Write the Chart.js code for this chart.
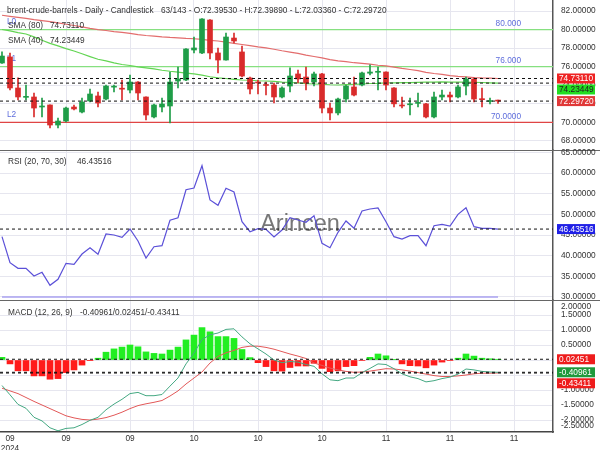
<!DOCTYPE html>
<html><head><meta charset="utf-8">
<script src="https://cdn.jsdelivr.net/npm/chart.js@4.4.1/dist/chart.umd.min.js"></script>
<style>html,body{margin:0;padding:0;background:#fff;overflow:hidden}canvas{display:block}</style>
</head><body>
<canvas id="c" width="600" height="450"></canvas>
<script>
// ---------- DATA ----------
const titleText = 'brent-crude-barrels - Daily - Candlestick';
const visibleCount = 63;
const totalCount = 143;
const watermark = 'Arincen';

const openP  = [76.40,77.05,73.71,72.70,72.74,71.66,71.88,69.72,70.15,71.66,71.12,72.31,72.85,72.52,73.80,73.63,73.49,74.35,72.74,70.59,71.66,71.77,74.46,74.57,77.80,77.48,81.03,77.48,76.72,79.09,77.59,74.79,74.30,74.08,74.03,72.74,73.92,75.22,74.89,74.35,75.22,71.55,71.02,72.52,73.82,74.03,75.30,75.40,75.43,73.71,71.85,71.90,72.05,72.00,70.59,72.74,72.95,72.74,73.92,74.68,72.55,72.25,72.3953];
const highP  = [77.59,77.48,74.79,74.03,73.17,72.63,71.90,70.48,71.66,71.88,72.63,73.60,73.28,74.03,74.03,74.57,75.11,74.40,72.76,71.98,72.63,75.43,75.97,77.95,79.20,81.18,81.08,78.02,79.63,79.63,78.23,74.89,74.57,74.35,74.25,73.82,75.87,75.65,75.97,75.43,75.30,72.09,72.63,74.03,74.89,75.43,76.20,75.97,75.45,73.75,72.74,72.63,73.17,72.05,73.28,73.49,73.28,74.03,74.89,74.79,73.71,72.63,72.3989];
const lowP   = [76.35,73.49,72.42,72.42,70.59,70.59,69.40,69.40,70.05,71.34,71.02,72.20,71.66,72.42,73.28,72.42,73.17,72.42,70.26,70.48,71.12,69.94,73.71,74.50,77.48,77.40,76.83,75.33,76.70,78.56,74.89,73.06,73.06,72.95,72.09,72.63,73.28,74.25,73.49,73.92,71.02,70.26,70.80,72.20,72.85,73.92,75.11,73.49,73.49,71.66,71.55,70.80,71.66,70.48,70.48,72.42,72.20,72.63,72.95,72.20,71.66,71.98,72.0336];
const closeP = [77.15,73.71,72.74,72.76,71.55,71.77,69.72,70.15,71.55,71.45,72.20,73.06,72.09,73.92,73.85,73.58,74.35,73.17,70.80,71.88,71.98,74.35,74.68,77.91,78.02,81.14,77.48,76.72,79.20,78.77,75.00,73.60,74.25,73.98,72.74,73.71,75.00,74.68,74.25,75.22,71.55,71.02,72.52,73.92,72.95,75.33,75.43,75.50,74.03,72.00,71.77,72.00,72.12,70.59,72.74,72.95,72.74,73.82,74.68,72.52,72.45,72.35,72.2972];

const sma80 = [81.54,81.42,81.31,81.20,81.07,80.96,80.85,80.72,80.57,80.44,80.30,80.13,79.99,79.90,79.78,79.69,79.59,79.46,79.36,79.30,79.21,79.15,79.11,79.05,79.01,78.94,78.84,78.77,78.65,78.51,78.39,78.28,78.13,78.02,77.88,77.72,77.58,77.43,77.25,77.10,76.95,76.77,76.62,76.54,76.43,76.35,76.27,76.16,76.08,75.96,75.82,75.70,75.57,75.40,75.27,75.17,75.05,74.95,74.90,74.83,74.79,74.77,74.7311];
const sma40 = [80.01,79.86,79.67,79.52,79.21,78.85,78.52,78.25,77.95,77.69,77.40,77.09,76.80,76.63,76.42,76.24,76.13,75.99,75.88,75.77,75.62,75.51,75.42,75.31,75.22,75.09,74.92,74.79,74.73,74.63,74.57,74.54,74.49,74.46,74.42,74.35,74.30,74.26,74.18,74.14,74.11,74.06,74.03,74.07,74.10,74.14,74.19,74.21,74.25,74.26,74.28,74.28,74.31,74.33,74.35,74.36,74.35,74.35,74.34,74.32,74.30,74.27,74.23449];

const rsiValues = [44.59,38.30,36.94,36.94,35.08,35.97,32.83,34.28,38.15,37.91,40.40,41.93,40.33,45.24,45.00,44.44,46.45,43.55,39.43,42.17,42.41,48.56,49.18,55.96,56.37,61.77,53.47,52.18,56.30,55.40,48.22,45.80,46.52,46.38,44.51,46.21,49.18,48.63,48.07,49.67,42.99,41.93,45.65,48.39,46.62,50.81,51.29,51.53,48.22,44.59,44.03,44.83,44.83,42.41,47.25,47.59,47.18,50.01,51.60,47.01,46.62,46.62,46.43516];
const rsiLowerBand = 30;

const macdLine   = [-0.85,-1.16,-1.48,-1.61,-1.91,-2.03,-2.26,-2.36,-2.28,-2.26,-2.15,-2.01,-1.91,-1.66,-1.47,-1.31,-1.12,-1.08,-1.19,-1.19,-1.15,-0.87,-0.60,-0.13,0.23,0.68,0.84,0.90,1.02,1.04,0.77,0.54,0.37,0.20,0.00,-0.09,-0.05,-0.07,-0.15,-0.21,-0.46,-0.66,-0.69,-0.60,-0.60,-0.42,-0.28,-0.13,-0.15,-0.29,-0.46,-0.56,-0.62,-0.73,-0.69,-0.62,-0.57,-0.47,-0.30,-0.33,-0.38,-0.40,-0.40961];
const macdSignal = [-0.94,-1.03,-1.12,-1.25,-1.38,-1.50,-1.62,-1.74,-1.86,-1.93,-1.98,-2.00,-1.97,-1.92,-1.84,-1.74,-1.62,-1.52,-1.46,-1.41,-1.35,-1.20,-1.03,-0.80,-0.60,-0.40,-0.10,0.12,0.24,0.32,0.42,0.46,0.46,0.42,0.36,0.28,0.20,0.13,0.05,-0.10,-0.18,-0.27,-0.33,-0.38,-0.41,-0.40,-0.37,-0.33,-0.29,-0.30,-0.33,-0.37,-0.42,-0.47,-0.52,-0.55,-0.55,-0.53,-0.50,-0.46,-0.44,-0.44,-0.43411];
const macdHist   = [0.09,-0.13,-0.36,-0.36,-0.53,-0.53,-0.64,-0.62,-0.42,-0.33,-0.17,-0.01,0.06,0.26,0.37,0.43,0.50,0.44,0.27,0.22,0.20,0.33,0.43,0.67,0.83,1.08,0.94,0.78,0.78,0.72,0.35,0.08,-0.09,-0.22,-0.36,-0.37,-0.25,-0.20,-0.20,-0.11,-0.28,-0.39,-0.36,-0.22,-0.19,-0.02,0.09,0.20,0.14,0.01,-0.13,-0.19,-0.20,-0.26,-0.17,-0.07,-0.02,0.06,0.20,0.13,0.06,0.04,0.02451];

const levelValues = [80, 76, 70];
const levelNames  = ['L0', 'L1', 'L2'];
const levelTexts  = ['80.000', '76.000', '70.0000'];

const xTickIndex  = [1, 8, 16, 24, 32, 40, 48, 56, 64];
const xTickLabels = [['09', '2024'], '09', '09', '10', '10', '10', '11', '11', '11'];
const priceTicks = [68, 70, 72, 74, 76, 78, 80, 82];
const rsiTicks   = [30, 35, 40, 45, 50, 55, 60, 65];
const macdTicks  = [2, 1.5, 1, 0.5, 0, -0.5, -1, -1.5, -2, -2.5];

// ---------- STYLE ----------
const FAM = '"Liberation Sans", Arial, sans-serif';
const FS = 8.3;
const X_MIN = -0.25, X_MAX = 68.875;
const UP = '#1f9d48', DOWN = '#d92b2b';
const GRID = '#e6e6ef';

const last = a => a[a.length - 1];
const candleColor = c => closeP[c.dataIndex] >= openP[c.dataIndex] ? UP : DOWN;
const hLine = v => [{x: X_MIN, y: v}, {x: X_MAX, y: v}];
const idx = openP.map((_, i) => i);

const dashed = (v, axis) => ({type: 'line', yAxisID: axis, data: hLine(v), borderColor: '#111', borderWidth: 1, borderDash: [3, 3], pointRadius: 0});

const datasets = [
  dashed(last(sma80), 'yP'), dashed(last(sma40), 'yP'), dashed(last(closeP), 'yP'),
  dashed(last(rsiValues), 'yR'),
  dashed(last(macdHist), 'yM'), dashed(last(macdLine), 'yM'), dashed(last(macdSignal), 'yM'),
  {type: 'bar', yAxisID: 'yP', grouped: false, data: idx.map(i => ({x: i, y: [openP[i], closeP[i]]})), backgroundColor: candleColor, barThickness: 5, minBarLength: 1, borderWidth: 0},
  {type: 'bar', yAxisID: 'yP', grouped: false, data: idx.map(i => ({x: i, y: [lowP[i], highP[i]]})), backgroundColor: candleColor, barThickness: 1, borderWidth: 0},
  {type: 'line', yAxisID: 'yP', data: idx.map(i => ({x: i, y: sma80[i]})), borderColor: '#e36d6d', borderWidth: 1.2, pointRadius: 0},
  {type: 'line', yAxisID: 'yP', data: idx.map(i => ({x: i, y: sma40[i]})), borderColor: '#63d553', borderWidth: 1.2, pointRadius: 0},
  {type: 'line', yAxisID: 'yP', data: hLine(levelValues[0]), borderColor: '#86e080', borderWidth: 1.2, pointRadius: 0},
  {type: 'line', yAxisID: 'yP', data: hLine(levelValues[1]), borderColor: '#86e080', borderWidth: 1.2, pointRadius: 0},
  {type: 'line', yAxisID: 'yP', data: hLine(levelValues[2]), borderColor: '#e04545', borderWidth: 1.2, pointRadius: 0},
  {type: 'line', yAxisID: 'yR', data: idx.map(i => ({x: i, y: rsiValues[i]})), borderColor: '#5b50d8', borderWidth: 1.2, pointRadius: 0},
  {type: 'line', yAxisID: 'yR', data: [{x: 0, y: rsiLowerBand}, {x: idx.length - 1, y: rsiLowerBand}], borderColor: '#aaa2f0', borderWidth: 1.6, pointRadius: 0},
  {type: 'line', yAxisID: 'yM', data: idx.map(i => ({x: i, y: macdLine[i]})), borderColor: '#44a882', borderWidth: 1, pointRadius: 0},
  {type: 'line', yAxisID: 'yM', data: idx.map(i => ({x: i, y: macdSignal[i]})), borderColor: '#e25858', borderWidth: 1, pointRadius: 0},
  {type: 'bar', yAxisID: 'yM', grouped: false, data: idx.map(i => ({x: i, y: macdHist[i]})), backgroundColor: c => macdHist[c.dataIndex] >= 0 ? '#22ee22' : '#ff1a1a', barThickness: 6, borderWidth: 0}
];

function yAxis(min, max, weight, ticks) {
  return {
    type: 'linear', position: 'right', stack: 'panes', stackWeight: weight, min, max,
    afterBuildTicks: s => { s.ticks = ticks.map(v => ({value: v})); },
    afterFit: s => { s.width = 47; s.paddingTop = 0; s.paddingBottom = 0; },
    ticks: {display: false},
    grid: {drawTicks: false, color: c => (c.tick && (c.tick.value > max || c.tick.value < min)) ? 'rgba(0,0,0,0)' : GRID},
    border: {display: true, color: '#555', width: 1.5}
  };
}

function valueBoxes(ctx, scale, items, x) {
  const h = 10;
  const arr = items.map(it => Object.assign({}, it, {y: scale.getPixelForValue(it.v)})).sort((a, b) => a.y - b.y);
  let prev = -1e9;
  arr.forEach(it => {
    let top = it.y - h / 2;
    if (top < prev + 1) top = prev + 1;
    ctx.fillStyle = it.bg; ctx.fillRect(x, top, 38, h);
    ctx.fillStyle = it.fg; ctx.fillText(it.v.toFixed(5), x + 2, top + h / 2 + 0.5);
    prev = top + h;
  });
}

const overlay = {
  id: 'overlay',
  beforeDatasetsDraw(chart) {
    const {ctx, chartArea: a, scales: {yP, yR}} = chart;
    ctx.save();
    ctx.font = '23.5px ' + FAM; ctx.fillStyle = 'rgba(95,95,95,0.85)';
    ctx.textAlign = 'center'; ctx.textBaseline = 'alphabetic';
    ctx.fillText(watermark, chart.width / 2, yR.top + 81);
    ctx.font = FS + 'px ' + FAM; ctx.fillStyle = '#5f6edc'; ctx.textBaseline = 'bottom';
    levelValues.forEach((v, i) => {
      const y = yP.getPixelForValue(v);
      ctx.textAlign = 'left'; ctx.fillText(levelNames[i], a.left + 7, y - 4);
      ctx.textAlign = 'right'; ctx.fillText(levelTexts[i], a.right - 32, y - 1.5);
    });
    ctx.restore();
  },
  afterDraw(chart) {
    const {ctx, chartArea: a, scales: {yP, yR, yM}} = chart;
    ctx.save();
    ctx.strokeStyle = '#666'; ctx.lineWidth = 1;
    [yR.top, yM.top].forEach(t => { const y = Math.round(t) + 0.5; ctx.beginPath(); ctx.moveTo(0, y); ctx.lineTo(chart.width, y); ctx.stroke(); });
    ctx.font = FS + 'px ' + FAM; ctx.textAlign = 'left'; ctx.textBaseline = 'middle'; ctx.fillStyle = '#333';
    [[yP, priceTicks], [yR, rsiTicks], [yM, macdTicks]].forEach(([s, ticks]) => {
      ticks.forEach(v => {
        let y = s.getPixelForValue(v);
        if (v >= s.max || v <= s.min) y = Math.min(Math.max(y, s.top + 7), s.bottom - 6);
        ctx.fillText(v.toFixed(5), a.right + 8, y);
      });
    });
    // header texts
    const n = closeP.length - 1;
    ctx.fillStyle = '#333';
    ctx.fillText(titleText, a.left + 7, a.top + 10.5);
    ctx.fillText(visibleCount + '/' + totalCount + ' - O:' + openP[n].toFixed(5) + ' - H:' + highP[n].toFixed(5) + ' - L:' + lowP[n].toFixed(5) + ' - C:' + closeP[n].toFixed(5), a.left + 161, a.top + 10.5);
    ctx.fillText('SMA (80)', a.left + 8, a.top + 25.5); ctx.fillText(last(sma80).toFixed(5), a.left + 50, a.top + 25.5);
    ctx.fillText('SMA (40)', a.left + 8, a.top + 40.5); ctx.fillText(last(sma40).toFixed(5), a.left + 50, a.top + 40.5);
    ctx.fillText('RSI (20, 70, 30)', a.left + 8, yR.top + 11.5); ctx.fillText(last(rsiValues).toFixed(5), a.left + 77, yR.top + 11.5);
    ctx.fillText('MACD (12, 26, 9)', a.left + 8, yM.top + 12.5);
    ctx.fillText(last(macdLine).toFixed(5) + '/' + last(macdHist).toFixed(5) + '/' + last(macdSignal).toFixed(5), a.left + 80, yM.top + 12.5);
    // value boxes
    const bx = a.right + 4;
    valueBoxes(ctx, yP, [
      {v: last(sma80), bg: '#ee2222', fg: '#fff'},
      {v: last(sma40), bg: '#22dd22', fg: '#222'},
      {v: last(closeP), bg: '#e03838', fg: '#fff'}
    ], bx);
    valueBoxes(ctx, yR, [{v: last(rsiValues), bg: '#2020e6', fg: '#fff'}], bx);
    valueBoxes(ctx, yM, [
      {v: last(macdHist), bg: '#ee1c1c', fg: '#fff'},
      {v: last(macdLine), bg: '#1f9a3c', fg: '#fff'},
      {v: last(macdSignal), bg: '#ee1c1c', fg: '#fff'}
    ], bx);
    ctx.restore();
  }
};

Chart.defaults.font.family = FAM;
Chart.defaults.font.size = FS;
Chart.defaults.color = '#333';

new Chart(document.getElementById('c'), {
  type: 'bar',
  data: {datasets},
  options: {
    responsive: false, animation: false, devicePixelRatio: 1,
    layout: {padding: 0},
    plugins: {legend: {display: false}, tooltip: {enabled: false}},
    scales: {
      x: {
        type: 'linear', min: X_MIN, max: X_MAX, offset: false,
        afterBuildTicks: s => { s.ticks = xTickIndex.map(v => ({value: v})); },
        afterFit: s => { s.height = 18; s.paddingLeft = 0; s.paddingRight = 0; },
        ticks: {autoSkip: false, maxRotation: 0, padding: 2, color: '#333', font: {size: FS, lineHeight: 1.15},
                callback: (v, i) => xTickLabels[i]},
        grid: {offset: false, drawTicks: false, color: c => (c.tick && c.tick.value === xTickIndex[0]) ? 'rgba(0,0,0,0)' : GRID},
        border: {display: true, color: '#444', width: 1.5}
      },
      yP: yAxis(67.03, 83.185, 150, priceTicks),
      yR: yAxis(29.27, 65.57, 150, rsiTicks),
      yM: yAxis(-2.4, 2.0, 132, macdTicks)
    }
  },
  plugins: [overlay]
});
</script>
</body></html>
